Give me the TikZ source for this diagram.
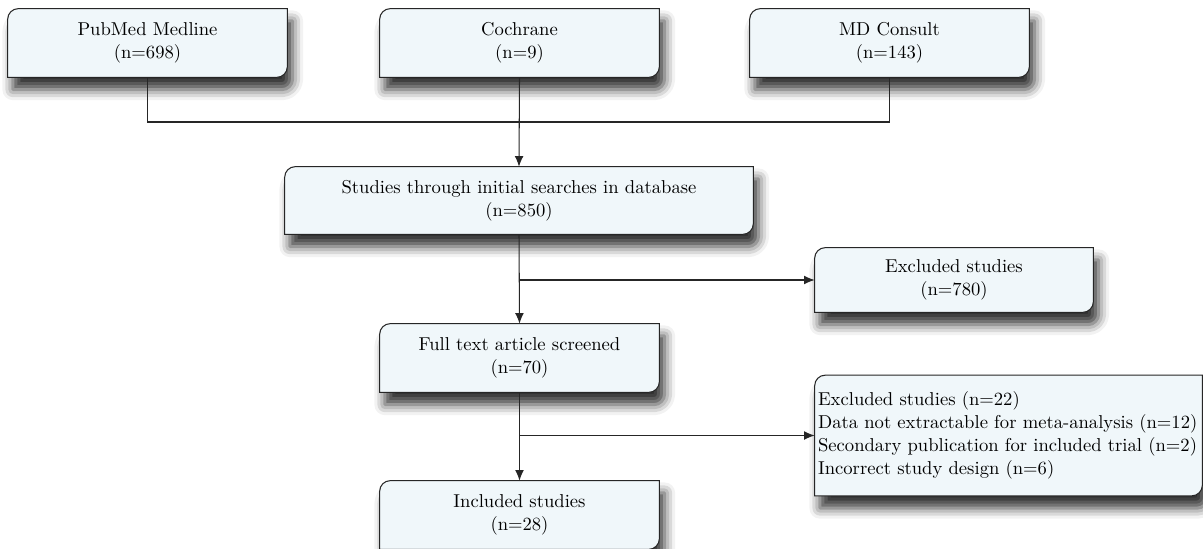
\documentclass[tikz,border=0pt]{standalone}
\usetikzlibrary{shadows.blur,backgrounds,arrows.meta}
\definecolor{boxfill}{RGB}{240,247,250}
\tikzset{
  box/.style={inner sep=0pt, align=center, minimum width=5.58cm, minimum height=1.36cm,
    font=\fontsize{10.6}{13}\selectfont},
  boxshape/.style={draw=black!85, line width=0.6pt, fill=boxfill,
    blur shadow={shadow xshift=3pt, shadow yshift=-7pt, shadow blur radius=6pt, shadow opacity=80}},
  link/.style={draw=black!85, line width=0.6pt, >={Latex[length=6pt, width=5pt]}}
}
\begin{document}
\begin{tikzpicture}[x=0.02cm, y=-0.02cm]
  \useasboundingbox (0,0) rectangle (1203,548);

  \node[box] (pubmed) at (147.5,43) {PubMed Medline\\(n=698)};
  \node[box] (cochrane) at (519.5,43) {Cochrane\\(n=9)};
  \node[box] (mdconsult) at (889.5,43) {MD Consult\\(n=143)};
  \node[box, minimum width=9.36cm, minimum height=1.34cm] (studies) at (519,200.5)
    {Studies through initial searches in database\\(n=850)};
  \node[box, minimum width=5.56cm, minimum height=1.28cm] (excla) at (954,280)
    {Excluded studies\\(n=780)};
  \node[box] (fulltext) at (519.5,358) {Full text article screened\\(n=70)};
  \node[box, minimum width=7.74cm, minimum height=2.4cm, align=left, text width=7.62cm] (exclb) at (1008.5,435.5)
    {Excluded studies (n=22)\\Data not extractable for meta-analysis (n=12)\\Secondary publication for included trial (n=2)\\Incorrect study design (n=6)};
  \node[box] (included) at (519.5,515) {Included studies\\(n=28)};

  \begin{scope}[on background layer]
    \foreach \n in {pubmed,cochrane,mdconsult,studies,excla,fulltext,exclb,included}
      \path[boxshape] ([yshift=-6pt]\n.north west) arc[start angle=180, end angle=90, radius=6pt]
        -- (\n.north east) -- ([yshift=6pt]\n.south east) arc[start angle=0, end angle=-90, radius=6pt]
        -- (\n.south west) -- cycle;
  \end{scope}

  \coordinate (join) at (519.5,122);
  \draw[link] (pubmed.south) |- (join) -| (mdconsult.south);
  \draw[link, ->] (cochrane.south) -- (studies.north);
  \draw[link, ->] (studies.south) -- (fulltext.north);
  \draw[link, ->] (studies.south |- excla.west) -- (excla.west);
  \draw[link, ->] (fulltext.south) -- (included.north);
  \draw[link, ->] (fulltext.south |- exclb.west) -- (exclb.west);
\end{tikzpicture}
\end{document}
